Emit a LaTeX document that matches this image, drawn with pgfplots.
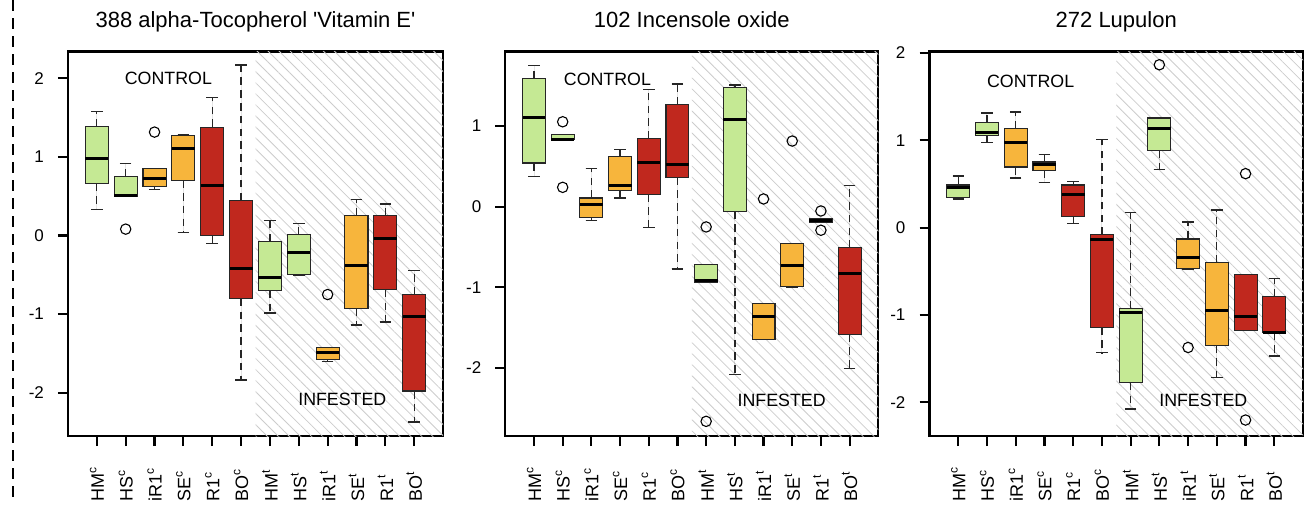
\documentclass[border=0pt]{standalone}
\usepackage{fontspec}
\setmainfont{Liberation Sans}
\usepackage{pgfplots}
\pgfplotsset{compat=1.18}
\usepgfplotslibrary{statistics}
\usetikzlibrary{patterns.meta}

\definecolor{cg}{RGB}{197,233,148}
\definecolor{co}{RGB}{247,181,60}
\definecolor{cr}{RGB}{192,40,30}

\pgfplotsset{
  panel/.style={
    scale only axis, height=192.25pt, anchor=south west,
    xmin=0, xmax=13, xtick={1,...,12},
    xticklabels={HM\textsuperscript{c},HS\textsuperscript{c},iR1\textsuperscript{c},SE\textsuperscript{c},R1\textsuperscript{c},BO\textsuperscript{c},HM\textsuperscript{t},HS\textsuperscript{t},iR1\textsuperscript{t},SE\textsuperscript{t},R1\textsuperscript{t},BO\textsuperscript{t}},
    tick align=outside, major tick length=5pt,
    tick style={black, line width=1.1pt},
    axis line style={line width=1.1pt},
    xtick pos=bottom, ytick pos=left,
    x tick label style={rotate=90, anchor=west, font=\fontsize{9}{10}\selectfont},
    xticklabel shift=31.5pt,
    yticklabel shift=3.5pt,
    y tick label style={font=\fontsize{8.5}{10}\selectfont},
    title style={font=\fontsize{11}{13}\selectfont, at={(0.5,1)}, anchor=base, yshift=6pt},
    boxplot/draw direction=y,
    boxplot/box extend=0.8,
    boxplot/whisker extend=0.4,
    boxplot/every median/.style={line width=1.5pt, black},
    boxplot/every box/.style={draw=black!85, line width=0.55pt},
    boxplot/every whisker/.style={black!85, line width=0.65pt},
    boxplot/draw/lower whisker/.code={%
      \draw[/pgfplots/boxplot/every whisker/.try, dash pattern=on 3.8pt off 2.6pt]
        (boxplot box cs:\pgfplotsboxplotvalue{lower quartile},0.5) --
        (boxplot box cs:\pgfplotsboxplotvalue{lower whisker},0.5);
      \draw[/pgfplots/boxplot/every whisker/.try]
        (boxplot whisker cs:\pgfplotsboxplotvalue{lower whisker},0) --
        (boxplot whisker cs:\pgfplotsboxplotvalue{lower whisker},1);
    },
    boxplot/draw/upper whisker/.code={%
      \draw[/pgfplots/boxplot/every whisker/.try, dash pattern=on 3.8pt off 2.6pt]
        (boxplot box cs:\pgfplotsboxplotvalue{upper quartile},0.5) --
        (boxplot box cs:\pgfplotsboxplotvalue{upper whisker},0.5);
      \draw[/pgfplots/boxplot/every whisker/.try]
        (boxplot whisker cs:\pgfplotsboxplotvalue{upper whisker},0) --
        (boxplot whisker cs:\pgfplotsboxplotvalue{upper whisker},1);
    },
  },
}

% color, position, lower whisker, lower quartile, median, upper quartile, upper whisker, outliers
\newcommand\bx[8]{\addplot[fill=#1, mark=o, mark size=2.6pt, mark options={solid, draw=black, line width=0.55pt},
  boxplot prepared={draw position=#2, lower whisker=#3, lower quartile=#4, median=#5, upper quartile=#6, upper whisker=#7}]
  coordinates {#8};}

\newcommand\hatch[2]{\fill[pattern={Lines[angle=-45,distance=3.9pt,line width=0.4pt]}, pattern color=black!20]
  (axis cs:6.5,#1) rectangle (axis cs:13,#2);}

\begin{document}
\begin{tikzpicture}
\useasboundingbox (0,0) rectangle (654.5pt,255.5pt);
\draw[dash pattern=on 5.5pt off 3.5pt, line width=1pt] (6.5pt,255.5pt) -- (6.5pt,5pt);

% Panel 1
\begin{axis}[panel, at={(34pt,37.5pt)}, width=187.5pt,
  ymin=-2.55, ymax=2.34, ytick={-2,-1,0,1,2}, yticklabels={-2,-1,0,1,2},
  title={388 alpha-Tocopherol \textquotesingle Vitamin E\textquotesingle}]
\hatch{-2.55}{2.34}
\bx{cg}{1}{0.335}{0.666}{0.980}{1.387}{1.578}{}
\bx{cg}{2}{0.496}{0.496}{0.505}{0.747}{0.920}{(2,0.081)}
\bx{co}{3}{0.581}{0.619}{0.725}{0.848}{0.848}{(3,1.315)}
\bx{co}{4}{0.038}{0.704}{1.107}{1.273}{1.281}{}
\bx{cr}{5}{-0.106}{0.004}{0.636}{1.379}{1.756}{}
\bx{cr}{6}{-1.837}{-0.806}{-0.420}{0.450}{2.168}{}
\bx{cg}{7}{-0.984}{-0.704}{-0.534}{-0.072}{0.187}{}
\bx{cg}{8}{-0.513}{-0.501}{-0.216}{0.013}{0.157}{}
\bx{co}{9}{-1.603}{-1.582}{-1.489}{-1.421}{-1.421}{(9,-0.751)}
\bx{co}{10}{-1.137}{-0.929}{-0.386}{0.250}{0.462}{}
\bx{cr}{11}{-1.099}{-0.691}{-0.042}{0.250}{0.399}{}
\bx{cr}{12}{-2.371}{-1.977}{-1.031}{-0.751}{-0.441}{}
\node[font=\fontsize{8.9}{10}\selectfont] at (axis cs:3.48,2.0) {CONTROL};
\node[font=\fontsize{8.9}{10}\selectfont] at (axis cs:9.51,-2.09) {INFESTED};
\end{axis}

% Panel 2
\begin{axis}[panel, at={(252.65pt,37.5pt)}, width=186.5pt,
  ymin=-2.844, ymax=1.923, ytick={-2,-1,0,1}, yticklabels={-2,-1,0,1},
  title={102 Incensole oxide}]
\hatch{-2.844}{1.923}
\bx{cg}{1}{0.376}{0.541}{1.106}{1.593}{1.750}{}
\bx{cg}{2}{0.830}{0.830}{0.838}{0.896}{0.896}{(2,1.052) (2,0.239)}
\bx{co}{3}{-0.169}{-0.132}{0.021}{0.107}{0.470}{}
\bx{co}{4}{0.107}{0.198}{0.256}{0.623}{0.710}{}
\bx{cr}{5}{-0.260}{0.149}{0.549}{0.842}{1.449}{}
\bx{cr}{6}{-0.772}{0.359}{0.524}{1.263}{1.519}{}
\bx{cg}{7}{-0.937}{-0.937}{-0.916}{-0.722}{-0.722}{(7,-0.252) (7,-2.662)}
\bx{cg}{8}{-2.080}{-0.062}{1.081}{1.473}{1.506}{}
\bx{co}{9}{-1.651}{-1.643}{-1.358}{-1.205}{-1.205}{(9,0.095)}
\bx{co}{10}{-1.007}{-0.986}{-0.726}{-0.462}{-0.462}{(10,0.813)}
\bx{cr}{11}{-0.194}{-0.194}{-0.169}{-0.149}{-0.149}{(11,-0.054) (11,-0.293)}
\bx{cr}{12}{-2.006}{-1.585}{-0.825}{-0.512}{0.260}{}
\node[font=\fontsize{8.9}{10}\selectfont] at (axis cs:3.56,1.577) {CONTROL};
\node[font=\fontsize{8.9}{10}\selectfont] at (axis cs:9.63,-2.406) {INFESTED};
\end{axis}

% Panel 3
\begin{axis}[panel, at={(464.75pt,37.5pt)}, width=186.75pt,
  ymin=-2.387, ymax=2.017, ytick={-2,-1,0,1,2}, yticklabels={-2,-1,0,1,2},
  title={272 Lupulon}]
\hatch{-2.387}{2.017}
\bx{cg}{1}{0.328}{0.347}{0.458}{0.488}{0.591}{}
\bx{cg}{2}{0.976}{1.052}{1.094}{1.205}{1.312}{}
\bx{co}{3}{0.568}{0.694}{0.980}{1.136}{1.323}{}
\bx{co}{4}{0.515}{0.656}{0.724}{0.751}{0.839}{}
\bx{cr}{5}{0.050}{0.126}{0.374}{0.488}{0.530}{}
\bx{cr}{6}{-1.434}{-1.140}{-0.133}{-0.084}{1.010}{}
\bx{cg}{7}{-2.078}{-1.777}{-0.976}{-0.930}{0.172}{}
\bx{cg}{8}{0.663}{0.885}{1.136}{1.255}{1.255}{(8,1.865)}
\bx{co}{9}{-0.473}{-0.473}{-0.339}{-0.130}{0.065}{(9,-1.373)}
\bx{co}{10}{-1.720}{-1.346}{-0.953}{-0.404}{0.202}{}
\bx{cr}{11}{-1.178}{-1.178}{-1.014}{-0.534}{-0.534}{(11,0.618) (11,-2.204)}
\bx{cr}{12}{-1.472}{-1.197}{-1.197}{-0.789}{-0.580}{}
\node[font=\fontsize{8.9}{10}\selectfont] at (axis cs:3.52,1.68) {CONTROL};
\node[font=\fontsize{8.9}{10}\selectfont] at (axis cs:9.53,-1.983) {INFESTED};
\end{axis}
\end{tikzpicture}
\end{document}
